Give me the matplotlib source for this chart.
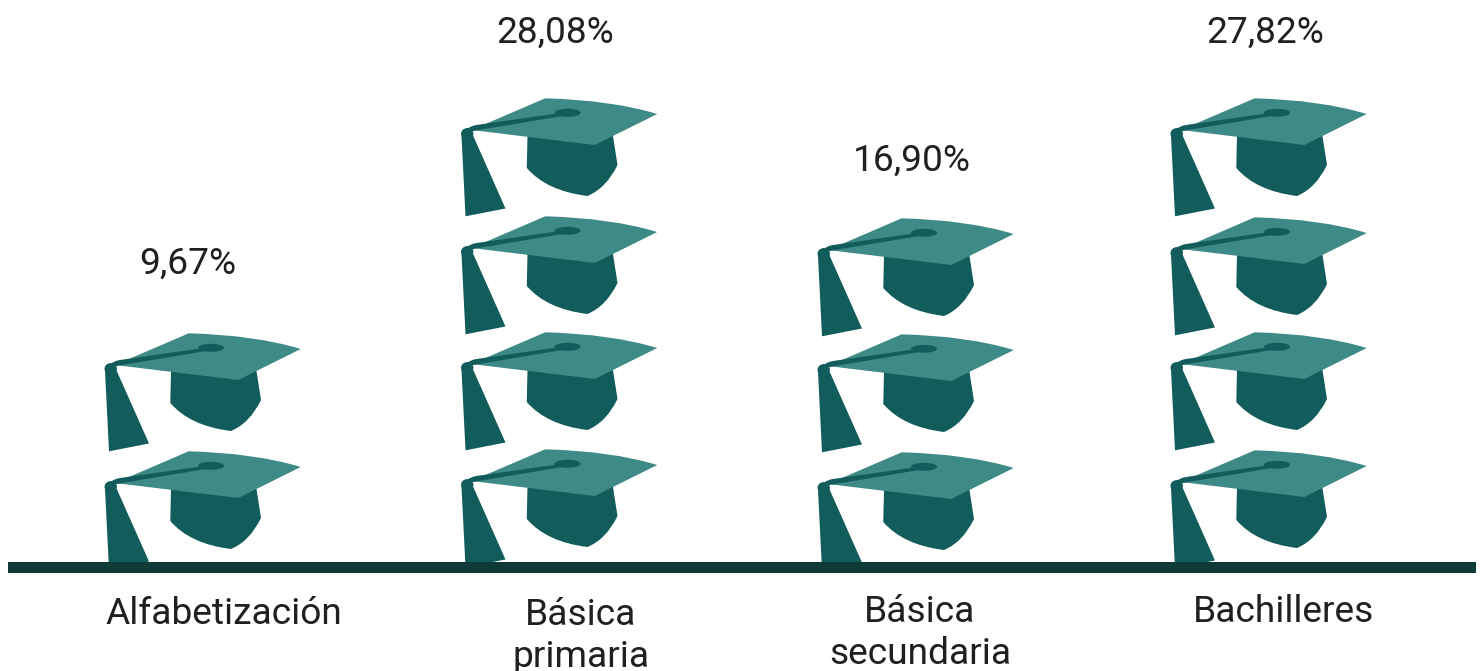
# Nivel educativo: pictograma de birretes apilados
import matplotlib
matplotlib.use("Agg")
import matplotlib.pyplot as plt
from matplotlib.path import Path
from matplotlib.patches import PathPatch, Rectangle, Ellipse

plt.rcParams["font.family"] = ["Roboto", "DejaVu Sans"]

# ------------------------------------------------------------
# Datos
# ------------------------------------------------------------
niveles = ["Alfabetización", "Básica\nprimaria", "Básica\nsecundaria", "Bachilleres"]
porcentajes = [9.67, 28.08, 16.90, 27.82]
birretes = [2, 4, 3, 4]

# ------------------------------------------------------------
# Posiciones (en pixeles de la figura)
# ------------------------------------------------------------
desp_x = [0, 356.5, 713, 1066]
# desplazamiento vertical de cada birrete, de abajo hacia arriba
desp_y = [
    [118, 0],
    [116, -1, -117, -235],
    [119, 1, -115],
    [117, -1, -116, -235],
]
pos_etiqueta_y = [614, 636, 633, 612]
pos_etiqueta_x = [224, 581, 920, 1284]
pos_valor_x = [188, 555.5, 912, 1265]
pos_valor_y = [264, 33, 161, 33]

VERDE_CLARO = "#3d8a86"
VERDE_OSCURO = "#125c5c"
LINEA = "#0e3a38"
TEXTO = "#231f20"

fig = plt.figure(figsize=(14.83, 6.71), dpi=100)
ax = fig.add_axes([0, 0, 1, 1])
ax.set_xlim(0, 1483)
ax.set_ylim(671, 0)
ax.axis("off")


def forma(puntos, dx, dy):
    # puntos: lista de (codigo, x, y) del birrete base
    verts = [(x + dx, y + dy) for _, x, y in puntos]
    codes = [c for c, _, _ in puntos]
    return Path(verts, codes)


M, L, C3, Z = Path.MOVETO, Path.LINETO, Path.CURVE3, Path.CLOSEPOLY

# partes del birrete
casco = [
    (M, 171, 370), (L, 170.3, 403), (C3, 190, 426), (L, 231, 431),
    (C3, 250, 423), (L, 261, 400), (L, 256, 368), (Z, 171, 370),
]
tablero = [
    (M, 188.7, 333.3), (C3, 255, 335), (L, 300.7, 349), (L, 238.3, 380),
    (L, 115, 365), (Z, 188.7, 333.3),
]
borla = [
    (M, 105, 371), (L, 109, 451.3), (L, 149, 443.5), (L, 115, 367), (Z, 105, 371),
]
nudo = [
    (M, 104.5, 369), (C3, 104.5, 364), (L, 110.5, 363), (C3, 117, 364),
    (L, 117, 369), (C3, 115, 375), (L, 110, 375), (C3, 105, 374), (L, 104.5, 369),
    (Z, 104.5, 369),
]
cordon = [
    (M, 110, 365), (C3, 113, 361), (L, 120, 360), (L, 204, 348),
    (L, 212, 350), (L, 122, 365), (L, 112, 367), (Z, 110, 365),
]

for col in range(len(niveles)):
    for n in range(birretes[col]):
        dx = desp_x[col]
        dy = desp_y[col][n]
        ax.add_patch(PathPatch(forma(casco, dx, dy), fc=VERDE_OSCURO, ec="none", zorder=2))
        ax.add_patch(PathPatch(forma(borla, dx, dy), fc=VERDE_OSCURO, ec="none", zorder=2))
        ax.add_patch(PathPatch(forma(tablero, dx, dy), fc=VERDE_CLARO, ec="none", zorder=3))
        ax.add_patch(PathPatch(forma(cordon, dx, dy), fc=VERDE_OSCURO, ec="none", zorder=4))
        ax.add_patch(Ellipse((211 + dx, 347.8 + dy), 26, 8, fc=VERDE_OSCURO, ec="none", zorder=4))
        ax.add_patch(PathPatch(forma(nudo, dx, dy), fc=VERDE_OSCURO, ec="none", zorder=4))

    valor = f"{porcentajes[col]:.2f}".replace(".", ",") + "%"
    ax.text(pos_valor_x[col], pos_valor_y[col], valor, fontsize=26.7, color=TEXTO,
            ha="center", va="center")
    ax.text(pos_etiqueta_x[col], pos_etiqueta_y[col], niveles[col], fontsize=26.7, color=TEXTO,
            ha="center", va="center", linespacing=1.2)

# linea base
ax.add_patch(Rectangle((8, 562), 1468, 11, fc=LINEA, ec="none", zorder=5))

fig.savefig("out.png", dpi=100)
